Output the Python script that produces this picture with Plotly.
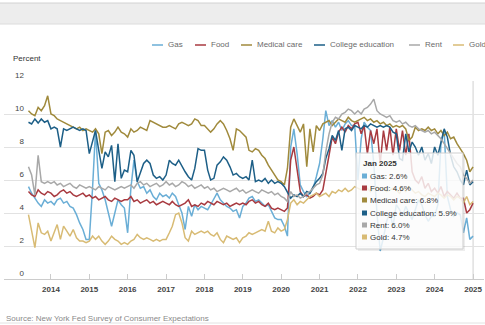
import pandas as pd
import plotly.graph_objects as go

dates = pd.date_range("2013-06-01", "2025-01-01", freq="MS")

series_names = ["Gas", "Food", "Medical care", "College education", "Rent", "Gold"]
series_colors = ["#6aaed6", "#a83a40", "#a08a3c", "#1d5f87", "#a8a8a8", "#d8bb74"]

gas = [
    5.6, 5.2, 4.9, 4.6, 4.4, 4.8, 4.6,
    4.7, 4.5, 4.8, 4.9, 4.6, 4.7, 4.4, 4.3, 3.9, 3.4, 3.0, 2.4,
    2.4, 5.5, 9.0, 5.8, 5.4, 4.8, 4.0, 3.2, 4.0, 4.8, 4.5, 4.3,
    2.8, 5.5, 7.2, 5.9, 5.5, 5.6, 5.2, 5.4, 5.0, 4.8, 5.2, 5.0,
    5.1, 4.9, 5.2, 5.0, 4.5, 4.0, 3.0, 4.4, 3.8, 4.5, 4.2, 4.4,
    4.3, 4.2, 4.5, 4.9, 5.2, 4.8, 4.6, 4.4, 4.3, 4.1, 4.2, 3.7,
    4.4, 4.6, 4.9, 5.0, 4.7, 4.8, 4.6, 4.4, 4.5, 4.1, 3.7, 3.6,
    3.6, 3.2, 2.6, 8.0, 9.1, 7.6, 5.7, 5.3, 5.0, 5.2, 5.5, 6.2,
    7.0, 8.5, 10.2, 9.3, 9.6, 9.2, 9.5, 9.0, 9.4, 9.6, 9.3, 9.3,
    6.0, 8.5, 9.5, 9.2, 9.0, 7.0, 4.0, 1.7, 2.5, 3.5, 4.0, 3.2,
    4.5, 4.2, 3.8, 4.4, 4.0, 3.6, 4.2, 4.8, 4.5, 3.9, 3.5, 3.8,
    3.8, 4.5, 8.2, 9.0, 5.0, 4.2, 3.8, 4.0, 3.9, 2.8, 3.7, 2.4,
    2.6,
]
food = [
    5.3, 5.1, 5.0, 5.4, 5.2, 5.1, 5.3,
    5.2, 5.0, 5.1, 5.3, 5.4, 5.2, 5.3, 5.1, 5.0, 5.1, 5.2, 5.0,
    5.1, 4.9, 5.0, 4.8, 4.9, 5.0, 4.8, 4.7, 4.9, 4.8, 4.7, 4.8,
    4.8, 5.0, 4.7, 4.8, 4.6, 4.7, 4.8, 4.6, 4.7, 4.5, 4.6, 4.7,
    4.6, 4.5, 4.7, 4.5, 4.4, 4.5, 4.6, 4.8, 4.4, 4.5, 4.4, 4.6,
    4.5, 4.7, 4.6, 4.5, 4.7, 4.6, 4.5, 4.6, 4.4, 4.5, 4.6, 4.5,
    4.6, 4.5, 4.7, 4.8, 4.6, 4.7, 4.5, 4.4, 4.6, 4.3, 4.2, 4.3,
    4.2, 4.1, 4.3, 7.2, 8.0, 6.6, 5.3, 5.0, 5.1, 4.9, 5.0, 5.2,
    5.1, 5.4, 6.5, 7.5, 8.6, 8.2, 8.9, 9.2, 8.9, 9.3, 9.1, 9.4,
    9.5, 8.8, 9.3, 7.6, 9.0, 8.2, 9.1, 7.0, 9.0, 7.8, 9.2, 7.5,
    9.1, 7.8, 9.0, 7.5, 8.8, 6.5, 6.0, 5.8, 6.2, 5.5, 5.8, 5.3,
    5.5, 5.2, 5.6, 5.0, 5.3, 5.1, 4.9, 5.2, 4.9, 4.9, 4.0, 4.2,
    4.6,
]
medical = [
    10.2, 10.0, 9.9, 10.4, 10.2, 10.5, 11.1,
    10.0, 9.9, 9.7, 9.6, 9.5, 9.4, 9.3, 9.2, 9.1, 9.2, 9.0, 9.1,
    9.0, 8.9, 9.1, 8.8, 7.6, 8.9, 9.0, 8.7, 8.9, 9.2, 8.9, 8.8,
    8.6, 9.1, 8.9, 9.0, 9.2, 9.1, 9.0, 9.6, 9.5, 9.4, 9.3, 9.2,
    9.2, 9.3, 9.2, 9.1, 9.4, 9.5, 9.4, 9.3, 9.4, 9.7, 9.6, 9.3,
    9.3, 9.1, 8.9, 9.1, 9.4, 9.6, 9.4, 9.0, 8.5, 7.8, 9.1, 9.0,
    8.8, 8.6, 7.8, 7.7, 7.9, 7.8, 7.5, 7.3, 6.9, 6.6, 6.3, 6.0,
    5.9, 5.7, 6.7, 9.2, 9.7, 9.3, 8.9, 9.4, 6.8, 9.1, 7.7, 9.3,
    9.0, 9.4, 9.5, 9.6, 9.3, 9.5, 9.7, 9.6, 9.5, 9.8, 9.6, 9.5,
    9.6, 9.7, 9.8, 9.6, 9.7, 9.5, 9.6, 9.4, 9.5, 9.3, 9.4, 9.2,
    9.3, 9.2, 9.3, 9.1, 8.4, 8.6, 9.2, 9.0, 9.1, 9.0, 9.2, 9.0,
    9.1, 8.8, 9.0, 8.7, 8.9, 8.5, 8.6, 8.2, 7.9, 7.6, 7.2, 6.5,
    6.8,
]
college = [
    9.5, 9.4, 9.7, 9.45, 9.7, 9.5, 9.6,
    9.1, 9.2, 9.1, 8.0, 9.1, 9.0, 9.1, 9.2, 9.1, 9.0, 9.1, 9.0,
    7.6, 8.4, 9.0, 7.8, 6.7, 7.7, 7.4, 8.1, 5.9, 8.2, 6.1, 6.6,
    6.5, 7.8, 7.5, 5.9, 6.5, 7.0, 7.2, 7.0, 6.3, 6.1, 6.2, 6.0,
    6.3, 7.2, 7.0, 6.9, 7.2, 6.8, 6.5, 6.2, 6.0, 6.7, 7.9, 7.8,
    7.8, 6.6, 6.0, 6.1, 6.9, 7.1, 7.4, 7.2, 6.8, 6.3, 6.4, 6.2,
    6.1, 6.2, 6.0, 7.2, 5.9, 6.0, 5.9, 6.1, 5.8, 6.0, 5.8, 5.9,
    5.8, 5.6, 5.3, 4.9, 5.1, 5.0, 5.2, 5.0, 5.3, 5.2, 5.6, 5.9,
    6.1, 6.4, 7.3, 7.9, 8.7, 8.4, 9.0, 7.8, 9.1, 9.2, 9.0, 9.3,
    9.2, 9.1, 9.3, 9.2, 9.4, 9.3, 9.2, 9.3, 9.2, 9.3, 9.2, 8.9,
    8.8, 7.3, 7.2, 8.8, 7.7, 8.3, 8.0, 7.5, 8.0, 7.2, 7.6, 7.0,
    8.0, 7.5, 8.2, 9.1, 8.6, 7.5, 6.8, 6.5, 6.0, 5.7, 6.6, 5.7,
    5.9,
]
rent = [
    6.8, 6.3, 5.1, 7.5, 5.9, 5.8, 5.9,
    5.8, 5.9, 5.7, 5.8, 5.6, 5.7, 5.8, 5.6, 5.5, 5.7, 5.6, 5.5,
    5.6, 5.5, 5.4, 5.6, 5.5, 5.4, 5.6, 5.5, 5.4, 5.5, 5.6, 5.5,
    5.6, 5.7, 5.5, 5.8, 5.9, 5.7, 5.8, 5.6, 5.7, 5.8, 5.6, 5.7,
    5.9, 5.7, 5.8, 5.6, 5.7, 5.9, 5.8, 5.6, 5.7, 5.5, 5.6, 5.7,
    5.5, 5.6, 5.4, 5.5, 5.3, 5.4, 5.5, 5.4, 5.3, 5.4, 5.5, 5.3,
    5.4, 5.2, 5.3, 5.4, 5.3, 5.2, 5.4, 5.3, 5.2, 5.3, 5.1, 5.2,
    5.0, 4.9, 4.7, 5.3, 5.0, 5.1, 4.9, 5.0, 5.2, 5.3, 5.5, 5.7,
    5.8, 6.3, 7.7, 8.8, 9.5, 9.8, 9.7, 10.0, 10.1, 10.3, 10.2, 10.0,
    10.2, 10.0, 10.3, 10.4, 10.6, 10.9, 10.2, 10.0, 9.9, 9.8, 9.9, 9.6,
    9.5, 9.6, 9.4, 9.5, 9.3, 9.2, 9.3, 9.1, 9.0, 8.9, 9.0, 8.8,
    8.9, 8.7, 8.5, 8.2, 7.9, 7.6, 7.3, 7.0, 6.8, 6.3, 6.1, 5.8,
    6.0,
]
gold = [
    3.9, 2.8, 1.9, 3.4, 2.8, 2.7, 2.9,
    2.3, 2.9, 3.3, 2.4, 3.2, 2.9, 2.6, 3.0, 2.5, 2.3, 2.3, 2.2,
    2.3, 2.6, 2.4, 2.6, 2.3, 2.1, 2.3, 2.6, 2.4, 2.3, 2.1, 2.2,
    2.1, 2.3, 2.4, 2.7, 2.5, 2.4, 2.5, 2.4, 2.3, 2.4, 2.3, 2.4,
    2.4, 2.8, 3.2, 3.9, 4.0, 3.4, 2.5, 2.3, 2.9, 2.7, 2.8, 2.9,
    2.8, 2.9, 2.7, 2.6, 2.8, 2.4, 2.2, 2.6, 2.5, 2.4, 2.5, 2.2,
    2.5, 2.6, 2.8, 2.7, 2.8, 2.9, 3.0, 2.9, 3.5, 2.9, 2.8, 3.1,
    2.9, 3.0, 3.6, 4.6, 4.8, 4.5, 4.7, 4.6, 4.8, 5.0, 5.1, 5.2,
    5.0, 5.1, 5.2, 5.0, 5.3, 5.2, 5.4, 5.3, 5.5, 5.3, 5.4, 5.6,
    5.5, 5.4, 5.6, 5.5, 5.3, 5.5, 5.6, 5.4, 5.5, 5.3, 5.4, 5.5,
    5.4, 5.2, 5.5, 5.3, 5.6, 5.4, 5.2, 5.3, 5.1, 5.0, 5.2, 5.1,
    5.0, 5.2, 5.1, 4.9, 5.1, 5.0, 4.8, 5.0, 4.9, 4.6, 5.0, 4.5,
    4.7,
]

y_ticks = [0, 2, 4, 6, 8, 10, 12]
x_ticks = [f"{y}-01-01" for y in range(2014, 2026)]
tooltip_title = "Jan 2025"
source_text = "Source: New York Fed Survey of Consumer Expectations"

all_series = [gas, food, medical, college, rent, gold]

W, H = 485, 325
ML, MR, MT, MB = 4, 1, 81, 46
PW = W - ML - MR
PH = H - MT - MB
FONT = "Liberation Sans, Arial, sans-serif"


def px(xp):
    return (xp - ML) / PW


def py(yp):
    return (H - MB - yp) / PH


fig = go.Figure()
for name, vals, col in zip(series_names, all_series, series_colors):
    fig.add_trace(go.Scatter(x=dates, y=vals, mode="lines", name=name,
                             line=dict(color=col, width=1.5),
                             hoverinfo="skip", showlegend=False))

shapes = []
annotations = []

# top grey band
shapes.append(dict(type="rect", xref="paper", yref="paper", x0=px(0), x1=px(W),
                   y0=py(24), y1=py(3), fillcolor="#ededed", line=dict(width=0), layer="below"))
shapes.append(dict(type="line", xref="paper", yref="paper", x0=px(0), x1=px(W),
                   y0=py(3), y1=py(3), line=dict(color="#d2d2d2", width=1)))
shapes.append(dict(type="line", xref="paper", yref="paper", x0=px(0), x1=px(W),
                   y0=py(24), y1=py(24), line=dict(color="#dcdcdc", width=1)))
# bottom separator
shapes.append(dict(type="line", xref="paper", yref="paper", x0=px(0), x1=px(W),
                   y0=py(323), y1=py(323), line=dict(color="#e2e2e2", width=1)))

# legend (manual, so it can run past the right edge like the original)
leg_x = [152, 195, 241, 314, 409, 453]
for xl, name, col in zip(leg_x, series_names, series_colors):
    shapes.append(dict(type="line", xref="paper", yref="paper", x0=px(xl), x1=px(xl + 11),
                       y0=py(45), y1=py(45), line=dict(color=col, width=1.5)))
    annotations.append(dict(xref="paper", yref="paper", x=px(xl + 14), y=py(45),
                            text=name, showarrow=False, xanchor="left", yanchor="middle",
                            font=dict(family=FONT, size=8, color="#6a6a6a")))

annotations.append(dict(xref="paper", yref="paper", x=px(11), y=py(59), text="Percent",
                        showarrow=False, xanchor="left", yanchor="middle",
                        font=dict(family=FONT, size=8, color="#333333")))
annotations.append(dict(xref="paper", yref="paper", x=px(4), y=py(318), text=source_text,
                        showarrow=False, xanchor="left", yanchor="middle",
                        font=dict(family=FONT, size=8, color="#8a8a8a")))

# crosshair at last date
shapes.append(dict(type="line", xref="x", yref="paper", x0=dates[-1], x1=dates[-1],
                   y0=0, y1=1, line=dict(color="#d0d0d0", width=1), layer="below"))

# tooltip box
tx0, tx1, ty0, ty1 = 356, 463, 153, 249
shapes.append(dict(type="rect", xref="paper", yref="paper", x0=px(tx0 + 2), x1=px(tx1 + 2),
                   y0=py(ty1 + 2), y1=py(ty0 + 2), fillcolor="rgba(0,0,0,0.07)",
                   line=dict(width=0)))
shapes.append(dict(type="rect", xref="paper", yref="paper", x0=px(tx0), x1=px(tx1),
                   y0=py(ty1), y1=py(ty0), fillcolor="rgba(255,255,255,0.82)",
                   line=dict(color="#cfcfcf", width=1)))
annotations.append(dict(xref="paper", yref="paper", x=px(361), y=py(163), text=f"<b>{tooltip_title}</b>",
                        showarrow=False, xanchor="left", yanchor="middle",
                        font=dict(family=FONT, size=8, color="#333333")))
line_y = [176, 188, 200, 213, 225, 237]
for ly, name, vals, col in zip(line_y, series_names, all_series, series_colors):
    shapes.append(dict(type="rect", xref="paper", yref="paper", x0=px(362), x1=px(367),
                       y0=py(ly + 2.5), y1=py(ly - 2.5), fillcolor=col, line=dict(width=0)))
    annotations.append(dict(xref="paper", yref="paper", x=px(368), y=py(ly),
                            text=f"{name}: {vals[-1]:.1f}%", showarrow=False,
                            xanchor="left", yanchor="middle",
                            font=dict(family=FONT, size=8, color="#333333")))

fs = "\u2007"
fig.update_layout(
    width=W, height=H,
    margin=dict(l=ML, r=MR, t=MT, b=MB),
    paper_bgcolor="white", plot_bgcolor="white",
    hovermode=False,
    shapes=shapes, annotations=annotations,
    xaxis=dict(range=["2012-10-11", "2025-04-15"], tickvals=x_ticks, tickformat="%Y",
               showgrid=False, showline=True, linecolor="#cccccc", linewidth=1,
               ticks="inside", ticklen=5, tickcolor="#cccccc", ticklabelstandoff=2,
               tickfont=dict(family=FONT, size=8, color="#444444", weight="bold"),
               zeroline=False, fixedrange=True),
    yaxis=dict(range=[0, 12], tickvals=y_ticks,
               ticktext=[(fs + str(v)) if v < 10 else str(v) for v in y_ticks],
               ticklabelposition="inside top", ticklabelstandoff=8,
               ticklabeloverflow="allow",
               gridcolor="#e2e2e2", gridwidth=1, zeroline=False, showline=False,
               tickfont=dict(family=FONT, size=8, color="#444444"), fixedrange=True),
)

fig.write_html("out.html")
